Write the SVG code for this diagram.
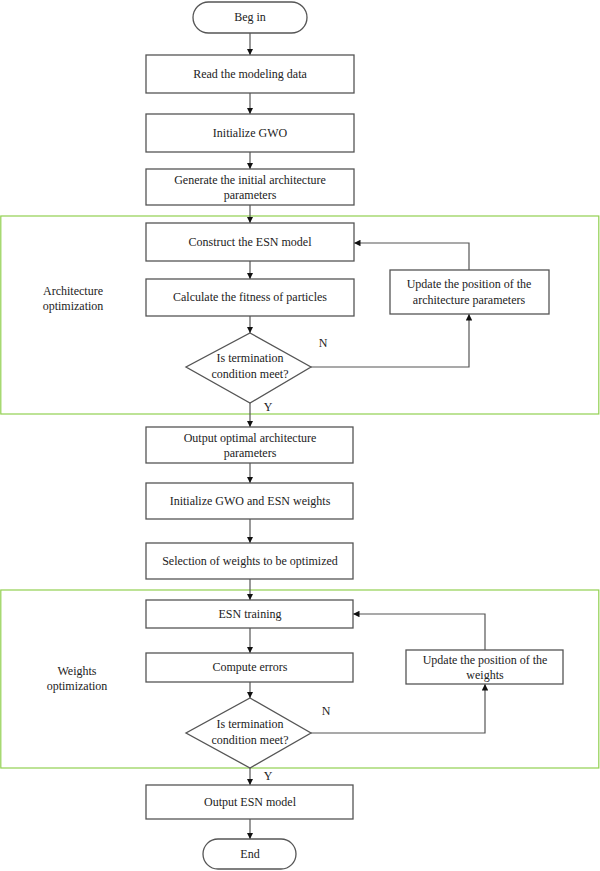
<svg xmlns="http://www.w3.org/2000/svg" width="600" height="871" viewBox="0 0 600 871">
<style>
.box{fill:#fff;stroke:#555;stroke-width:1.3}
.grp{fill:none;stroke:#92d050;stroke-width:1.2}
.ln{fill:none;stroke:#555;stroke-width:1.2}
text{font-family:'Liberation Serif','DejaVu Serif',serif;font-size:12px;fill:#222;text-anchor:middle}
</style>
<defs>
<marker id="ah" viewBox="0 0 8 8" refX="8" refY="4" markerWidth="6.5" markerHeight="6.5" orient="auto" markerUnits="userSpaceOnUse">
<path d="M0,0 L8,4 L0,8 z" fill="#111"/>
</marker>
</defs>
<rect class="grp" x="0.8" y="216" width="598" height="198"/>
<rect class="grp" x="0.8" y="590" width="598" height="178"/>
<g id="connectors">
<line class="ln" x1="250" y1="33" x2="250" y2="55" marker-end="url(#ah)"/>
<line class="ln" x1="250" y1="93" x2="250" y2="114" marker-end="url(#ah)"/>
<line class="ln" x1="250" y1="152" x2="250" y2="169" marker-end="url(#ah)"/>
<line class="ln" x1="250" y1="205" x2="250" y2="223" marker-end="url(#ah)"/>
<line class="ln" x1="250" y1="261" x2="250" y2="279" marker-end="url(#ah)"/>
<line class="ln" x1="250" y1="316" x2="250" y2="333" marker-end="url(#ah)"/>
<line class="ln" x1="250" y1="403" x2="250" y2="427" marker-end="url(#ah)"/>
<line class="ln" x1="250" y1="463" x2="250" y2="483" marker-end="url(#ah)"/>
<line class="ln" x1="250" y1="519" x2="250" y2="543" marker-end="url(#ah)"/>
<line class="ln" x1="250" y1="579" x2="250" y2="600" marker-end="url(#ah)"/>
<line class="ln" x1="250" y1="628" x2="250" y2="653" marker-end="url(#ah)"/>
<line class="ln" x1="250" y1="682" x2="250" y2="698" marker-end="url(#ah)"/>
<line class="ln" x1="250" y1="768" x2="250" y2="785" marker-end="url(#ah)"/>
<line class="ln" x1="250" y1="819" x2="250" y2="839" marker-end="url(#ah)"/>
<polyline class="ln" points="311,367 469,367 469,314" marker-end="url(#ah)"/>
<polyline class="ln" points="469,270 469,243 354,243" marker-end="url(#ah)"/>
<polyline class="ln" points="311,733 485,733 485,684" marker-end="url(#ah)"/>
<polyline class="ln" points="485,650 485,614 353,614" marker-end="url(#ah)"/>
<text x="323" y="347">N</text>
<text x="268" y="411">Y</text>
<text x="326" y="715">N</text>
<text x="268" y="780">Y</text>
</g>
<g id="begin">
<rect class="box" x="193" y="2" width="114" height="31" rx="15.5"/>
<text x="250" y="21">Beg in</text>
</g>
<g id="read">
<rect class="box" x="146" y="55" width="208" height="38"/>
<text x="250" y="78">Read the modeling data</text>
</g>
<g id="initgwo">
<rect class="box" x="146" y="114" width="208" height="38"/>
<text x="250" y="137">Initialize GWO</text>
</g>
<g id="generate">
<rect class="box" x="146" y="169" width="208" height="36"/>
<text x="250" y="184">Generate the initial architecture</text>
<text x="250" y="199">parameters</text>
</g>
<g id="archlabel">
<text x="73" y="295">Architecture</text>
<text x="73" y="310">optimization</text>
</g>
<g id="construct">
<rect class="box" x="146" y="223" width="208" height="38"/>
<text x="250" y="246">Construct the ESN model</text>
</g>
<g id="calc">
<rect class="box" x="146" y="279" width="208" height="37"/>
<text x="250" y="301">Calculate the fitness of particles</text>
</g>
<g id="decision1">
<polygon class="box" points="250,333 311,367 250,403 186,367"/>
<text x="250" y="362">Is termination</text>
<text x="250" y="378">condition meet?</text>
</g>
<g id="update1">
<rect class="box" x="390" y="270" width="159" height="44"/>
<text x="469" y="288">Update the position of the</text>
<text x="469" y="304">architecture parameters</text>
</g>
<g id="outarch">
<rect class="box" x="146" y="427" width="207" height="36"/>
<text x="250" y="442">Output optimal architecture</text>
<text x="250" y="457">parameters</text>
</g>
<g id="initw">
<rect class="box" x="146" y="483" width="207" height="36"/>
<text x="250" y="505">Initialize GWO and ESN weights</text>
</g>
<g id="select">
<rect class="box" x="146" y="543" width="207" height="36"/>
<text x="250" y="565">Selection of weights to be optimized</text>
</g>
<g id="wlabel">
<text x="77" y="675">Weights</text>
<text x="77" y="690">optimization</text>
</g>
<g id="train">
<rect class="box" x="146" y="600" width="207" height="28"/>
<text x="250" y="618">ESN training</text>
</g>
<g id="errors">
<rect class="box" x="146" y="653" width="207" height="29"/>
<text x="250" y="671">Compute errors</text>
</g>
<g id="decision2">
<polygon class="box" points="250,698 311,733 250,768 186,733"/>
<text x="250" y="728">Is termination</text>
<text x="250" y="744">condition meet?</text>
</g>
<g id="update2">
<rect class="box" x="406" y="650" width="157" height="34"/>
<text x="485" y="664">Update the position of the</text>
<text x="485" y="679">weights</text>
</g>
<g id="outesn">
<rect class="box" x="146" y="785" width="207" height="34"/>
<text x="250" y="806">Output ESN model</text>
</g>
<g id="end">
<rect class="box" x="203" y="839" width="93" height="30" rx="15"/>
<text x="250" y="858">End</text>
</g>
</svg>
